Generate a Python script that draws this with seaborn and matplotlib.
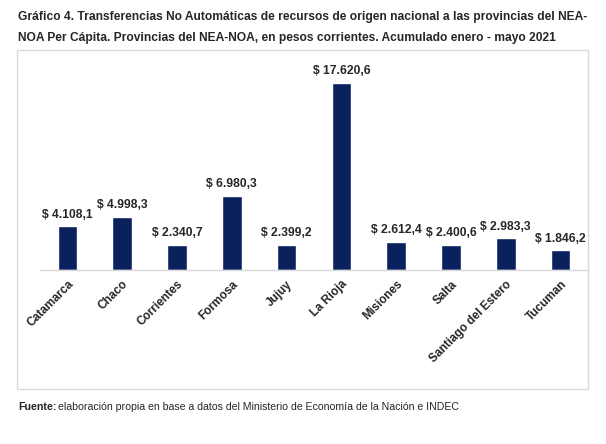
import matplotlib
matplotlib.use("Agg")
import matplotlib.pyplot as plt
import seaborn as sns
import pandas as pd
from matplotlib.patches import Rectangle

provincias = ["Catamarca", "Chaco", "Corrientes", "Formosa", "Jujuy", "La Rioja",
              "Misiones", "Salta", "Santiago del Estero", "Tucuman"]
valores = [4108.1, 4998.3, 2340.7, 6980.3, 2399.2, 17620.6, 2612.4, 2400.6, 2983.3, 1846.2]

titulo = ("Gráfico 4. Transferencias No Automáticas de recursos de origen nacional a las provincias del NEA-\n"
          "NOA Per Cápita. Provincias del NEA-NOA, en pesos corrientes. Acumulado enero - mayo 2021")

sns.set_style("white")
plt.rcParams['font.family'] = ['Liberation Sans', 'DejaVu Sans']

df = pd.DataFrame({"prov": provincias, "valor": valores})

fig = plt.figure(figsize=(6.06, 4.44), dpi=100)
ax = fig.add_axes([40 / 606, 174 / 444, 548 / 606, 212 / 444])

sns.barplot(data=df, x="prov", y="valor", color="#0b215e", saturation=1, width=0.36, ax=ax)
ax.set_ylim(0, 20000)
ax.set_xlim(-0.5, len(provincias) - 0.5)

# etiquetas de valor
for i, v in enumerate(valores):
    txt = "$ " + f"{v:,.1f}".replace(",", "X").replace(".", ",").replace("X", ".")
    ax.text(i, v + 550, txt, ha="center", va="bottom", fontsize=8.7, fontweight="bold")

ax.set_xlabel("")
ax.set_ylabel("")
ax.set_yticks([])
ax.set_xticks(range(len(provincias)))
ax.set_xticklabels(provincias, rotation=45, ha="right", rotation_mode="anchor",
                   fontsize=8.5, fontweight="bold")
ax.tick_params(axis="x", length=0, pad=6)
for s in ["top", "right", "left"]:
    ax.spines[s].set_visible(False)
ax.spines["bottom"].set_color("#d9d9d9")
ax.spines["bottom"].set_linewidth(1.0)

# marco del grafico
fig.patches.append(Rectangle((17 / 606, 1 - 389 / 444), 571 / 606, 339 / 444,
                             transform=fig.transFigure, fill=False,
                             edgecolor="#d9d9d9", linewidth=1.0))

fig.text(18 / 606, 1 - 11 / 444, titulo, ha="left", va="top", fontsize=8.65,
         fontweight="bold", linespacing=2.0)

fig.text(18 / 606, 1 - 407 / 444, "Fuente:", ha="left", va="center", fontsize=7.7, fontweight="bold")
fig.text(58 / 606, 1 - 407 / 444, "elaboración propia en base a datos del Ministerio de Economía de la Nación e INDEC",
         ha="left", va="center", fontsize=7.6)

fig.savefig("out.png", dpi=100)
